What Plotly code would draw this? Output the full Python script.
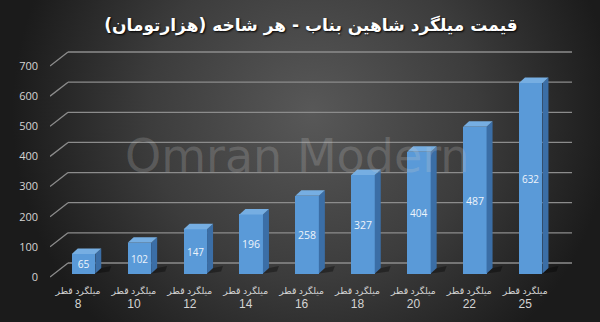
import base64
import plotly.graph_objects as go

# ---------------- data ----------------
diameters = [8, 10, 12, 14, 16, 18, 20, 22, 25]
prices = [65, 102, 147, 196, 258, 327, 404, 487, 632]
category_labels = [
    f"<span style='font-size:9.3px'>میلگرد قطر</span><br>"
    f"<span style='font-family:Liberation Sans, Arial;font-size:12px'>{d}</span>"
    for d in diameters
]
y_ticks = [0, 100, 200, 300, 400, 500, 600, 700]
title_text = "قیمت میلگرد شاهین بناب - هر شاخه (هزارتومان)"
watermark = "Omran Modern"

# ---------------- geometry / style constants ----------------
W, H = 600, 322
ML, MR, MT, MB = 50, 28, 40, 40
X_RANGE = [-0.501, 8.837]
Y_RANGE = [-16.6, 786.3]
px_per_x = (W - ML - MR) / (X_RANGE[1] - X_RANGE[0])
px_per_y = (H - MT - MB) / (Y_RANGE[1] - Y_RANGE[0])

def ux(px):
    return px / px_per_x

def uy(px):
    return px / px_per_y

bar_w = ux(23.5)
bar_dx = ux(5.5)        # bar front face shift into depth
bar_base = uy(3.5)
top_dx, top_dy = ux(6), uy(5.5)     # bar depth
back_dx, back_dy = ux(18), uy(14)   # wall depth

FRONT = "#5a9ad8"
SIDE = "#3b6ea6"
TOP = "#76aee2"
GRID = "#8c8c8c"
TXT = "#d4d4d4"

xs = list(range(len(prices)))

fig = go.Figure()

fig.add_trace(go.Bar(
    x=[i + bar_dx for i in xs],
    y=prices,
    base=bar_base,
    width=bar_w,
    marker=dict(color=FRONT, line=dict(width=0)),
    text=[str(v) for v in prices],
    textposition="inside",
    insidetextanchor="middle",
    textangle=0,
    textfont=dict(color="#eef4fb", size=11, family="Open Sans, Arial"),
    hoverinfo="skip",
))

shapes = []
# gridlines on back wall + diagonal on side
for v in y_ticks:
    shapes.append(dict(type="line", xref="x", yref="y",
                       x0=X_RANGE[0] + back_dx, x1=X_RANGE[1],
                       y0=v + back_dy, y1=v + back_dy,
                       line=dict(color=GRID, width=1.3), layer="below"))
    shapes.append(dict(type="line", xref="x", yref="y",
                       x0=X_RANGE[0], x1=X_RANGE[0] + back_dx,
                       y0=v, y1=v + back_dy,
                       line=dict(color=GRID, width=1.3), layer="below"))

# 3D faces of bars
for i, v in zip(xs, prices):
    c = i + bar_dx
    x0, x1 = c - bar_w / 2, c + bar_w / 2
    yb, yt = bar_base, bar_base + v
    # shadow
    shapes.append(dict(type="path", xref="x", yref="y",
                       path=f"M {x1},{yb} L {x1 + ux(14)},{yb + uy(2)} L {x1 + ux(16)},{yb + top_dy + uy(2)} L {x1 + top_dx},{yb + top_dy} Z",
                       fillcolor="rgba(0,0,0,0.35)", line=dict(width=0), layer="below"))
    # side
    shapes.append(dict(type="path", xref="x", yref="y",
                       path=f"M {x1},{yb} L {x1},{yt} L {x1 + top_dx},{yt + top_dy} L {x1 + top_dx},{yb + top_dy} Z",
                       fillcolor=SIDE, line=dict(width=0)))
    # top
    shapes.append(dict(type="path", xref="x", yref="y",
                       path=f"M {x0},{yt} L {x1},{yt} L {x1 + top_dx},{yt + top_dy} L {x0 + top_dx},{yt + top_dy} Z",
                       fillcolor=TOP, line=dict(width=0)))

# background radial gradient (whole figure)
svg = f"""<svg xmlns='http://www.w3.org/2000/svg' width='{W}' height='{H}' viewBox='0 0 {W} {H}' preserveAspectRatio='none'>
<defs><radialGradient id='g' gradientUnits='userSpaceOnUse' cx='{W*0.52}' cy='{H*0.35}' r='{W*0.5}'>
<stop offset='0%' stop-color='#585858'/><stop offset='55%' stop-color='#3c3c3c'/><stop offset='100%' stop-color='#1b1b1b'/>
</radialGradient></defs><rect width='{W}' height='{H}' fill='url(#g)'/></svg>"""
src = "data:image/svg+xml;base64," + base64.b64encode(svg.encode()).decode()
pw, ph = W - ML - MR, H - MT - MB

fig.update_layout(
    width=W, height=H,
    margin=dict(l=ML, r=MR, t=MT, b=MB),
    paper_bgcolor="#1d1d1d",
    plot_bgcolor="rgba(0,0,0,0)",
    showlegend=False,
    bargap=0,
    shapes=shapes,
    images=[dict(source=src, xref="paper", yref="paper",
                 x=-ML / pw, y=1 + MT / ph, sizex=W / pw, sizey=H / ph,
                 xanchor="left", yanchor="top", sizing="stretch", layer="below")],
    title=dict(text=title_text, x=0.5, xref="paper", xanchor="center",
               y=1 - 25 / H, yref="container", yanchor="middle",
               font=dict(family="DejaVu Sans", size=17, color="white",
                         weight="bold", shadow="1px 1px 2px #000")),
    annotations=[dict(text=watermark, xref="paper", yref="paper",
                      x=(297 - ML) / pw, y=(H - MB - 156) / ph,
                      xanchor="center", yanchor="middle", showarrow=False,
                      font=dict(family="DejaVu Sans", size=46,
                                color="rgba(200,200,200,0.22)"))],
    xaxis=dict(range=X_RANGE, tickvals=xs, ticktext=category_labels,
               tickangle=0, automargin=False,
               showgrid=False, zeroline=False, showline=False, ticks="",
               tickfont=dict(color=TXT, size=11, family="Open Sans, DejaVu Sans"),
               ticklabelstandoff=0, fixedrange=True),
    yaxis=dict(range=Y_RANGE, tickvals=y_ticks, automargin=False,
               showgrid=False, zeroline=False, showline=False, ticks="",
               tickfont=dict(color=TXT, size=11, family="Open Sans, Arial"),
               ticklabelstandoff=11, fixedrange=True),
)

fig.write_html("out.html", config={"displayModeBar": False})
